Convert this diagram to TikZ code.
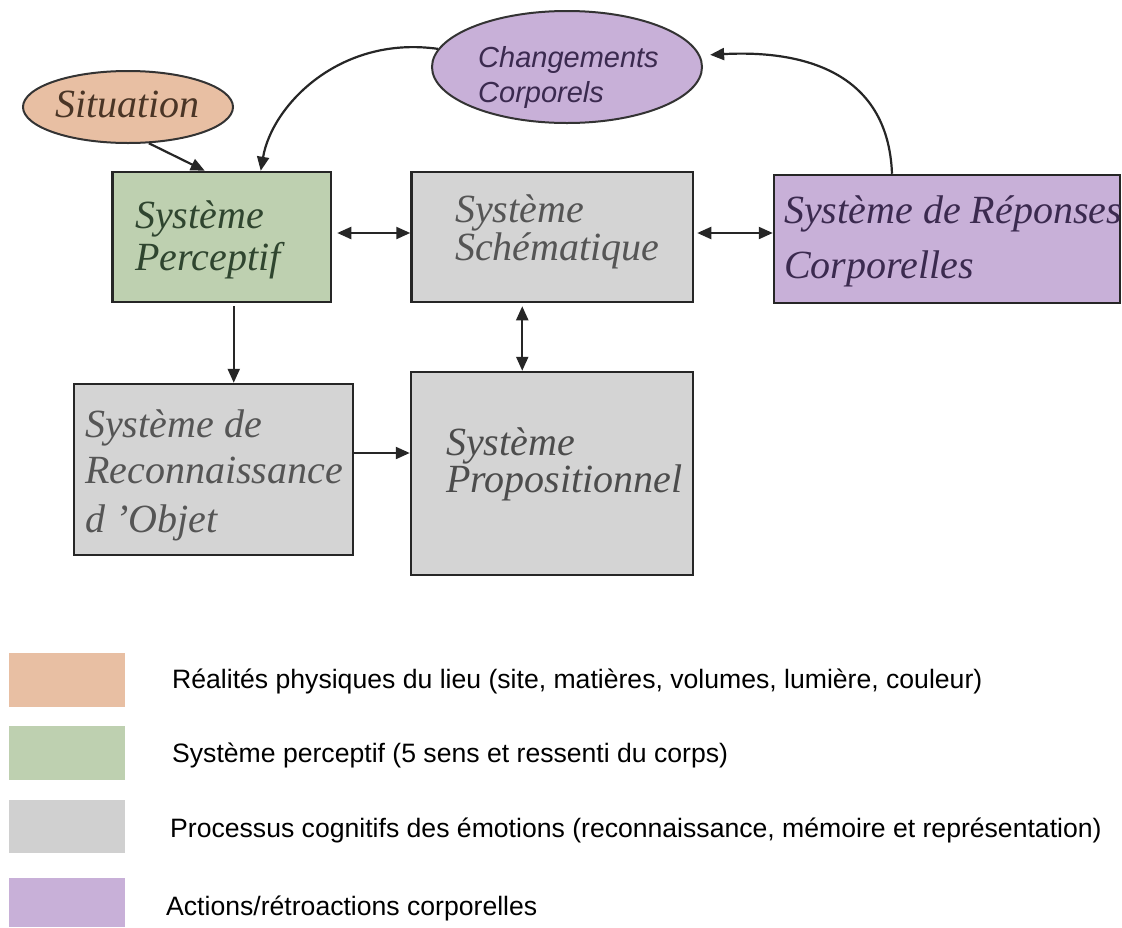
\documentclass[tikz,border=0pt]{standalone}
\usepackage{fontspec}
\setmainfont{Liberation Serif}
\newfontfamily\sansfam{Liberation Sans}
\usetikzlibrary{arrows.meta,shapes.geometric}

\definecolor{peach}{HTML}{E8BFA3}
\definecolor{sage}{HTML}{BED0B0}
\definecolor{boxgray}{HTML}{D4D4D4}
\definecolor{keygray}{HTML}{D0D0D0}
\definecolor{lilac}{HTML}{C8B0D8}
\definecolor{inkbrown}{HTML}{4A3526}
\definecolor{inkgreen}{HTML}{2F452F}
\definecolor{inkgray}{HTML}{555555}
\definecolor{inkpurple}{HTML}{3B2A4F}

\tikzset{
  sysbox/.style={rectangle, draw=black!85, line width=2.5pt, inner sep=0pt},
  bubble/.style={ellipse, draw=black!80, line width=2pt, inner sep=0pt},
  swatch/.style={rectangle, inner sep=0pt, minimum width=116pt},
  serifline/.style={anchor=base west, inner sep=0pt, font=\fontsize{40}{40}\selectfont\itshape},
  serifpair/.style={anchor=base west, inner sep=0pt, align=left, font=\fontsize{40}{33}\selectfont\itshape},
  sansline/.style={anchor=base west, inner sep=0pt, font=\sansfam\fontsize{29}{29}\selectfont\itshape},
  keyline/.style={anchor=base west, inner sep=0pt, font=\sansfam\fontsize{26.6}{26.6}\selectfont},
  tip/.tip={Triangle[length=14pt,width=12pt]},
  conn/.style={draw=black!85, line width=2.2pt, -tip},
  dconn/.style={draw=black!85, line width=2.2pt, tip-tip},
}

\begin{document}
\begin{tikzpicture}[x=1pt, y=-1pt]
\useasboundingbox[fill=white] (0,0) rectangle (1122,927);

% ---- ellipses ----
\node[bubble, fill=peach, minimum width=210pt, minimum height=72pt] (sit) at (128,107) {};
\node[bubble, fill=lilac, minimum width=270pt, minimum height=112pt] (chg) at (567,67) {};

% ---- system boxes ----
\node[sysbox, fill=sage, minimum width=218.5pt, minimum height=130pt] (perc) at (221.75,237) {};
\node[sysbox, fill=boxgray, minimum width=281.5pt, minimum height=130pt] (schem) at (552.25,237) {};
\node[sysbox, fill=lilac, minimum width=346pt, minimum height=128pt] (rep) at (947,239) {};
\node[sysbox, fill=boxgray, minimum width=279pt, minimum height=171pt] (reco) at (213.5,469.5) {};
\node[sysbox, fill=boxgray, minimum width=282pt, minimum height=203pt] (prop) at (552,473.5) {};

% ---- labels ----
\node[serifline, text=inkbrown] (sitA) at (55,117) {Situation};
\node[sansline, text=inkpurple] (chgA) at (478,67) {Changements};
\node[sansline, text=inkpurple] (chgB) at (478,102) {Corporels};

\node[serifline, text=inkgreen] (percA) at (135,228) {Système};
\node[serifline, text=inkgreen] (percB) at (135,270) {Perceptif};

% the two tightly set lines of this box share one node (base = last line)
\node[serifpair, text=inkgray] (schemT) at (455,260) {Système\\Schématique};

\node[serifline, text=inkpurple] (repA) at (784,223) {Système de Réponses};
\node[serifline, text=inkpurple] (repB) at (784,278) {Corporelles};

\node[serifline, text=inkgray] (recoA) at (85,437) {Système de};
\node[serifline, text=inkgray] (recoB) at (85,483) {Reconnaissance};
\node[serifline, text=inkgray] (recoC) at (85,532) {d 'Objet};

\node[serifline, text=black!70] (propA) at (446,455) {Système};
\node[serifline, text=black!70] (propB) at (446,492) {Propositionnel};

% ---- connectors ----
\draw[conn] (sit.-60) -- ([xshift=-17pt]perc.north);
\draw[conn] (chg.172) .. controls (340,35) and (272,105) .. ([xshift=39pt]perc.north);
\draw[conn, shorten >=10pt] ([xshift=-55pt]rep.north) .. controls (888,70) and (800,50) .. (chg.5);
\draw[dconn] ([xshift=5pt,yshift=4pt]perc.east) -- ([yshift=4pt]perc.east -| schem.west);
\draw[dconn] ([xshift=3pt,yshift=4pt]schem.east) -- ([yshift=4pt]schem.east -| rep.west);
\draw[conn] ([xshift=12pt,yshift=-3pt]perc.south) -- ([xshift=12pt]perc.south |- reco.north);
\draw[dconn] ([xshift=-30pt,yshift=-3pt]schem.south) -- ([xshift=-30pt]schem.south |- prop.north);
\draw[conn] ([yshift=16.5pt]reco.east) -- ([yshift=16.5pt]reco.east -| prop.west);

% ---- legend ----
\node[swatch, fill=peach, minimum height=54pt] (key1) at (67,680) {};
\node[swatch, fill=sage, minimum height=54pt] (key2) at (67,753) {};
\node[swatch, fill=keygray, minimum height=53pt] (key3) at (67,826.5) {};
\node[swatch, fill=lilac, minimum height=49pt] (key4) at (67,902.5) {};

\node[keyline] (txt1) at (172,688) {Réalités physiques du lieu (site, matières, volumes, lumière, couleur)};
\node[keyline] (txt2) at (172,762) {Système perceptif (5 sens et ressenti du corps)};
\node[keyline] (txt3) at (170,837) {Processus cognitifs des émotions (reconnaissance, mémoire et représentation)};
\node[keyline] (txt4) at (166,915) {Actions/rétroactions corporelles};
\end{tikzpicture}
\end{document}
